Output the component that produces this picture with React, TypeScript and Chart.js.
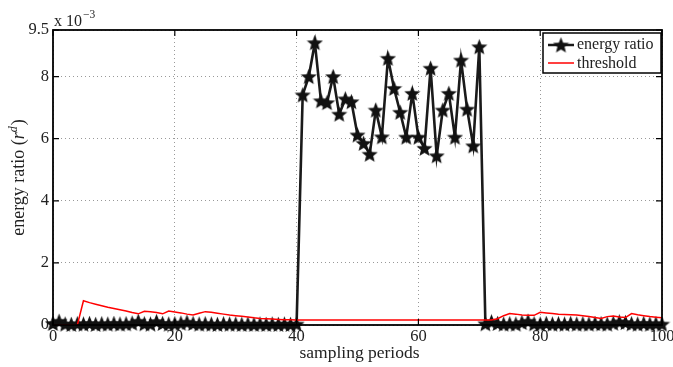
import { useEffect, useRef } from 'react';
import { Chart, registerables } from 'chart.js';
Chart.register(...registerables);

const periods: number[] = Array.from({ length: 101 }, (_, i) => i);

// energy ratio, in units of 1e-3
const energyRatio: number[] = [
  0.05, 0.12, 0.03, 0.02, 0.04, 0.03, 0.05, 0.02, 0.04, 0.03,
  0.05, 0.03, 0.04, 0.06, 0.12, 0.04, 0.03, 0.11, 0.05, 0.03,
  0.04, 0.06, 0.09, 0.05, 0.03, 0.04, 0.03, 0.02, 0.04, 0.03,
  0.03, 0.02, 0.03, 0.02, 0.03, 0.02, 0.03, 0.02, 0.03, 0.02,
  0.03, 7.41, 8.0, 9.09, 7.22, 7.16, 8.0, 6.79, 7.28, 7.19,
  6.12, 5.85, 5.5, 6.92, 6.06, 8.59, 7.62, 6.85, 6.05, 7.46,
  6.05, 5.69, 8.27, 5.45, 6.92, 7.46, 6.05, 8.53, 6.95, 5.77,
  8.96, 0.04, 0.1, 0.05, 0.03, 0.04, 0.03, 0.08, 0.12, 0.04,
  0.03, 0.05, 0.03, 0.04, 0.03, 0.05, 0.03, 0.04, 0.03, 0.05,
  0.04, 0.03, 0.06, 0.1, 0.08, 0.04, 0.03, 0.05, 0.03, 0.04,
  0.03,
];

// threshold, in units of 1e-3
const threshold: number[] = [
  0, 0, 0, 0, 0, 0.78, 0.72, 0.67, 0.62, 0.57,
  0.53, 0.49, 0.45, 0.4, 0.36, 0.44, 0.43, 0.4, 0.36, 0.45,
  0.42, 0.39, 0.35, 0.32, 0.38, 0.43, 0.41, 0.38, 0.35, 0.32,
  0.3, 0.28, 0.26, 0.23, 0.21, 0.2, 0.19, 0.18, 0.17, 0.17,
  0.16, 0.16, 0.16, 0.16, 0.16, 0.16, 0.16, 0.16, 0.16, 0.16,
  0.16, 0.16, 0.16, 0.16, 0.16, 0.16, 0.16, 0.16, 0.16, 0.16,
  0.16, 0.16, 0.16, 0.16, 0.16, 0.16, 0.16, 0.16, 0.16, 0.16,
  0.16, 0.16, 0.16, 0.2, 0.3, 0.37, 0.35, 0.32, 0.31, 0.31,
  0.41, 0.39, 0.37, 0.35, 0.34, 0.33, 0.32, 0.3, 0.27, 0.24,
  0.21, 0.27, 0.29, 0.26, 0.24, 0.37, 0.33, 0.3, 0.27, 0.25,
  0.23,
];

const xTicks: number[] = [0, 20, 40, 60, 80, 100];
const yTicks: number[] = [0, 2, 4, 6, 8, 9.5];

const SERIF = "'Liberation Serif', 'DejaVu Serif', serif";

function makeStar(size: number, color: string): HTMLCanvasElement {
  const c = document.createElement('canvas');
  c.width = size;
  c.height = size;
  const g = c.getContext('2d')!;
  g.fillStyle = color;
  g.beginPath();
  const cx = size / 2;
  const cy = size / 2 + 0.7;
  const R = size / 2;
  const r = R * 0.44;
  for (let i = 0; i < 10; i++) {
    const a = -Math.PI / 2 + (i * Math.PI) / 5;
    const rad = i % 2 ? r : R;
    g.lineTo(cx + rad * Math.cos(a), cy + rad * Math.sin(a));
  }
  g.closePath();
  g.fill();
  return c;
}

const decorations = {
  id: 'decorations',
  afterDraw(chart: any) {
    const ctx: CanvasRenderingContext2D = chart.ctx;
    const { left, right, top, bottom } = chart.chartArea;
    const xs = chart.scales.x;
    const ys = chart.scales.y;
    ctx.save();
    // inward ticks
    ctx.strokeStyle = '#000';
    ctx.lineWidth = 1.2;
    ctx.setLineDash([]);
    ctx.beginPath();
    xTicks.forEach((v) => {
      const px = xs.getPixelForValue(v);
      ctx.moveTo(px, bottom);
      ctx.lineTo(px, bottom - 6);
      ctx.moveTo(px, top);
      ctx.lineTo(px, top + 6);
    });
    yTicks.forEach((v) => {
      const py = ys.getPixelForValue(v);
      ctx.moveTo(left, py);
      ctx.lineTo(left + 6, py);
      ctx.moveTo(right, py);
      ctx.lineTo(right - 6, py);
    });
    ctx.stroke();
    // box
    ctx.lineWidth = 1.8;
    ctx.strokeRect(left, top, right - left, bottom - top);

    // legend
    const lx = 543, ly = 33, lw = 118, lh = 40;
    ctx.fillStyle = '#fff';
    ctx.fillRect(lx, ly, lw, lh);
    ctx.lineWidth = 1.5;
    ctx.strokeStyle = '#000';
    ctx.strokeRect(lx, ly, lw, lh);
    ctx.font = `16px ${SERIF}`;
    ctx.textBaseline = 'middle';
    ctx.textAlign = 'left';
    // energy entry
    ctx.strokeStyle = '#1a1a1a';
    ctx.lineWidth = 2.5;
    ctx.beginPath();
    ctx.moveTo(548, 45);
    ctx.lineTo(574, 45);
    ctx.stroke();
    const st = makeStar(17, '#111');
    ctx.drawImage(st, 561 - 8.5, 45 - 8.5);
    ctx.fillStyle = '#222';
    ctx.fillText('energy ratio', 577, 45);
    // threshold entry
    ctx.strokeStyle = '#ff0000';
    ctx.lineWidth = 1.5;
    ctx.beginPath();
    ctx.moveTo(548, 63);
    ctx.lineTo(574, 63);
    ctx.stroke();
    ctx.fillText('threshold', 577, 64);

    // exponent label
    ctx.fillStyle = '#222';
    ctx.textBaseline = 'alphabetic';
    ctx.font = `16px ${SERIF}`;
    ctx.fillText('x 10', 54, 26);
    const w10 = ctx.measureText('x 10').width;
    ctx.font = `11.5px ${SERIF}`;
    ctx.fillText('\u22123', 54 + w10 + 1, 18);

    // x title
    ctx.font = `17.5px ${SERIF}`;
    ctx.textAlign = 'center';
    ctx.textBaseline = 'middle';
    ctx.fillText('sampling periods', (left + right) / 2 + 2, 353);

    // y title
    ctx.translate(18, (top + bottom) / 2);
    ctx.rotate(-Math.PI / 2);
    const parts: { t: string; f: string; dy: number }[] = [
      { t: 'energy ratio (', f: `18px ${SERIF}`, dy: 0 },
      { t: 'r', f: `italic 18px ${SERIF}`, dy: 0 },
      { t: 'd', f: `italic 12px ${SERIF}`, dy: -7 },
      { t: ')', f: `18px ${SERIF}`, dy: 0 },
    ];
    let total = 0;
    parts.forEach((p) => {
      ctx.font = p.f;
      total += ctx.measureText(p.t).width + (p.t === 'd' ? 1 : 0);
    });
    let cx = -total / 2;
    ctx.textAlign = 'left';
    ctx.textBaseline = 'alphabetic';
    parts.forEach((p) => {
      ctx.font = p.f;
      ctx.fillText(p.t, cx, 6 + p.dy);
      cx += ctx.measureText(p.t).width + (p.t === 'd' ? 1 : 0);
    });
    ctx.restore();
  },
};

export default function App() {
  const ref = useRef<HTMLCanvasElement | null>(null);
  useEffect(() => {
    document.body.style.margin = '0';
    const star = makeStar(17, '#111');
    const chart = new Chart(ref.current!, {
      type: 'line',
      data: {
        datasets: [
          {
            label: 'energy ratio',
            data: periods.map((p, i) => ({ x: p, y: energyRatio[i] })),
            borderColor: '#1a1a1a',
            borderWidth: 2.6,
            pointStyle: star as any,
            pointRadius: 8,
            pointBackgroundColor: '#111',
            tension: 0,
            clip: false as any,
            order: 1,
          },
          {
            label: 'threshold',
            data: periods.map((p, i) => ({ x: p, y: threshold[i] })),
            borderColor: '#ff0000',
            borderWidth: 1.5,
            pointRadius: 0,
            tension: 0,
            order: 0,
          },
        ],
      },
      options: {
        animation: false,
        responsive: true,
        maintainAspectRatio: false,
        layout: { padding: { left: 0, top: 30, right: 11, bottom: 0 } },
        plugins: { legend: { display: false }, tooltip: { enabled: false } },
        scales: {
          x: {
            type: 'linear',
            min: 0,
            max: 100,
            afterFit: (s: any) => { s.height = 42; s.paddingRight = 0; s.paddingLeft = 0; },
            afterBuildTicks: (s: any) => { s.ticks = xTicks.map((v) => ({ value: v })); },
            ticks: {
              color: '#222',
              font: { family: SERIF, size: 16.5 },
              padding: 2,
              maxRotation: 0,
              callback: (v: any) => String(v),
            },
            grid: { color: '#999', lineWidth: 1, drawTicks: false },
            border: { display: false, dash: [1, 3] },
          },
          y: {
            type: 'linear',
            min: 0,
            max: 9.5,
            afterFit: (s: any) => { s.width = 53; s.paddingTop = 0; s.paddingBottom = 0; },
            afterBuildTicks: (s: any) => { s.ticks = yTicks.map((v) => ({ value: v })); },
            ticks: {
              color: '#222',
              font: { family: SERIF, size: 16.5 },
              padding: 4,
              callback: (v: any) => String(v),
            },
            grid: { color: '#999', lineWidth: 1, drawTicks: false },
            border: { display: false, dash: [1, 3] },
          },
        },
      },
      plugins: [decorations],
    });
    return () => chart.destroy();
  }, []);
  return (
    <div style={{ position: 'relative', width: 673, height: 367 }}>
      <canvas ref={ref} />
    </div>
  );
}
